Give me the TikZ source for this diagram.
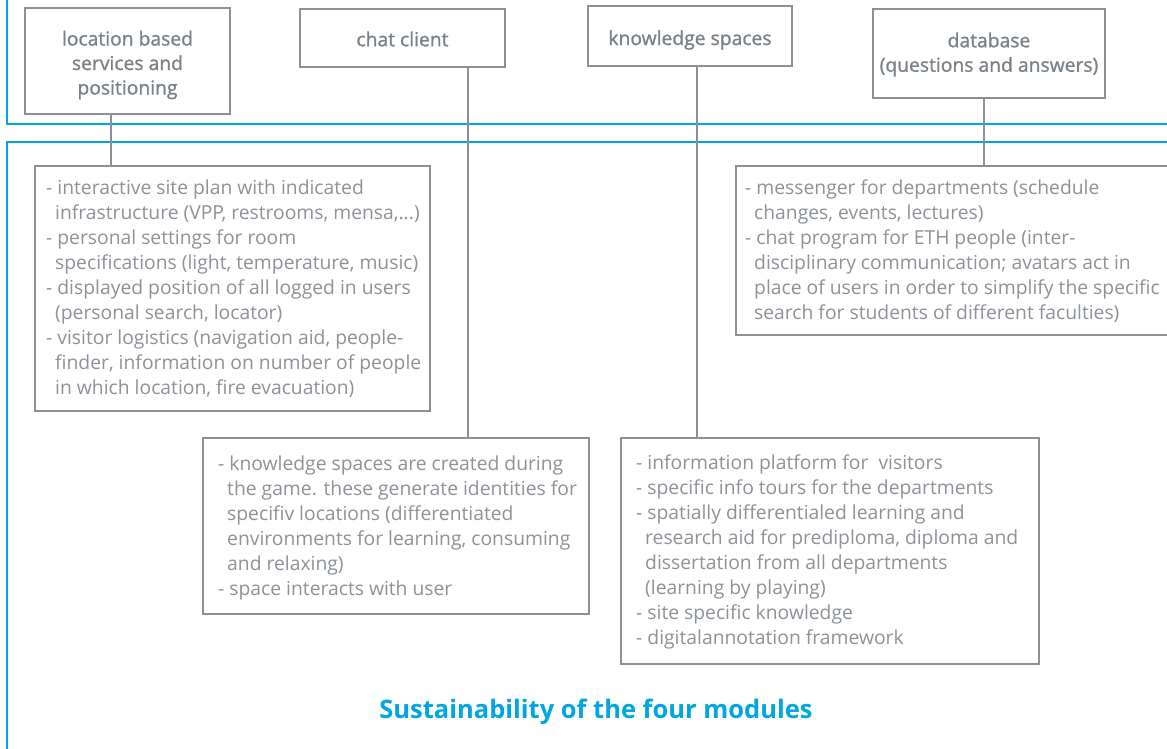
\documentclass[tikz,border=0pt]{standalone}
\usepackage{fontspec}
\setmainfont{Open Sans}
\newfontfamily\labelfont[FakeBold=1.2]{Open Sans}
\definecolor{boxgray}{RGB}{138,144,150}
\definecolor{txtgray}{RGB}{140,146,152}
\definecolor{lblgray}{RGB}{122,130,137}
\definecolor{ethblue}{RGB}{0,166,226}
\tikzset{
  frame/.style={draw=ethblue, line width=2pt},
  topbox/.style={draw=boxgray, line width=2pt, anchor=north west, inner sep=0pt},
  toplabel/.style={inner sep=0pt, align=center, text=lblgray,
    font=\labelfont\fontsize{19.3}{24.5}\selectfont},
  cbox/.style={draw=boxgray, line width=2pt, anchor=north west, inner sep=0pt},
  ctext/.style={anchor=north west, inner sep=0pt, align=left, text=txtgray,
    font=\fontsize{19.3}{25}\selectfont},
  conn/.style={draw=boxgray, line width=2pt},
  title/.style={text=ethblue, font=\bfseries\fontsize{25.5}{30}\selectfont}
}
\newcommand{\ci}{\hspace*{9pt}}
\begin{document}
\begin{tikzpicture}[x=1pt,y=-1pt]
\clip (0,0) rectangle (1167,748);
\fill[white] (0,0) rectangle (1167,748);
% blue frames
\draw[frame] (7,-20) rectangle (1200,124);
\draw[frame] (7,142) rectangle (1200,780);
% top module boxes
\node[topbox, minimum width=205pt, minimum height=106pt] (b1) at (24,7) {};
\node[topbox, minimum width=205pt, minimum height=58pt] (b2) at (299,8) {};
\node[topbox, minimum width=204pt, minimum height=60pt] (b3) at (587,5) {};
\node[topbox, minimum width=232pt, minimum height=89pt] (b4) at (872,8) {};
\node[toplabel] (l1) at ([shift={(0,4)}]b1.center) {location based\\services and\\positioning};
\node[toplabel] (l2) at ([shift={(0,1)}]b2.center) {chat client};
\node[toplabel] (l3) at ([shift={(0,4)}]b3.center) {knowledge spaces};
\node[toplabel] (l4) at ([shift={(0,1)}]b4.center) {database\\(questions and answers)};
% content boxes
\node[cbox, minimum width=395pt, minimum height=245pt] (site) at (34,165) {};
\node[cbox, minimum width=460pt, minimum height=169pt] (msg) at (735,165) {};
\node[cbox, minimum width=386pt, minimum height=176pt] (kc) at (202,437) {};
\node[cbox, minimum width=418pt, minimum height=226pt] (info) at (620,437) {};
% texts
\node[ctext] (sitetxt) at ([shift={(12,15)}]site.north west) {%
- interactive site plan with indicated\\
\ci infrastructure (VPP, restrooms, mensa,...)\\
- personal settings for room\\
\ci specifications (light, temperature, music)\\
- displayed position of all logged in users\\
\ci (personal search, locator)\\
- visitor logistics (navigation aid, people-\\
\ci finder, information on number of people\\
\ci in which location, fire evacuation)};
\node[ctext] (msgtxt) at ([shift={(10,15)}]msg.north west) {%
- messenger for departments (schedule\\
\ci changes, events, lectures)\\
- chat program for ETH people (inter-\\
\ci disciplinary communication; avatars act in\\
\ci place of users in order to simplify the specific\\
\ci search for students of different faculties)};
\node[ctext] (kctxt) at ([shift={(16,19)}]kc.north west) {%
- knowledge spaces are created during\\
\ci the game. these generate identities for\\
\ci specifiv locations (differentiated\\
\ci environments for learning, consuming\\
\ci and relaxing)\\
- space interacts with user};
\node[ctext] (infotxt) at ([shift={(16,18)}]info.north west) {%
- information platform for \ visitors\\
- specific info tours for the departments\\
- spatially differentialed learning and\\
\ci research aid for prediploma, diploma and\\
\ci dissertation from all departments\\
\ci (learning by playing)\\
- site specific knowledge\\
- digitalannotation framework};
% connectors
\coordinate (x1) at (111,0);
\coordinate (x2) at (468,0);
\coordinate (x3) at (697,0);
\coordinate (x4) at (984,0);
\draw[conn] (b1.south -| x1) -- (site.north -| x1);
\draw[conn] (b2.south -| x2) -- (kc.north -| x2);
\draw[conn] (b3.south -| x3) -- (info.north -| x3);
\draw[conn] (b4.south -| x4) -- (msg.north -| x4);
% title
\node[title] (ttl) at (596,712) {Sustainability of the four modules};
\end{tikzpicture}
\end{document}
